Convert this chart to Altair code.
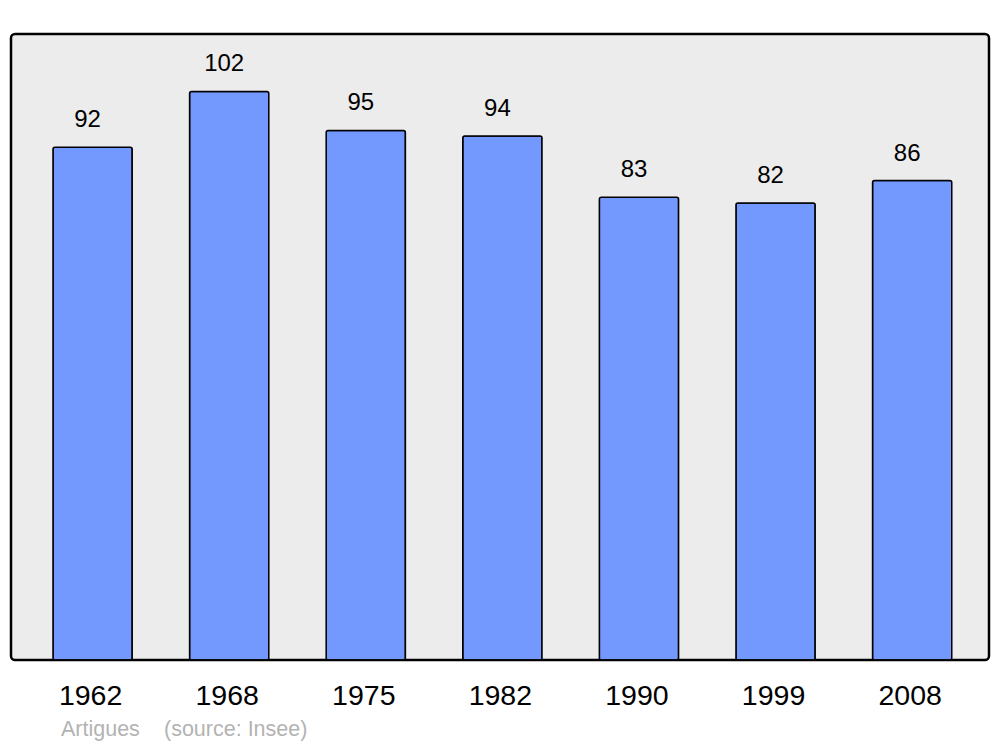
import altair as alt
import pandas as pd

years = ["1962", "1968", "1975", "1982", "1990", "1999", "2008"]
population = [92, 102, 95, 94, 83, 82, 86]

df = pd.DataFrame({"year": years, "pop": population})

x = alt.X("year:N", sort=years, title=None,
          scale=alt.Scale(paddingInner=0.42, paddingOuter=0.29, align=0.53),
          axis=alt.Axis(labelAngle=0, labelFontSize=28.5, labelColor="black",
                        labelFont="Liberation Sans", ticks=False, domain=False,
                        labelPadding=21, labelOffset=-2, grid=False))
y = alt.Y("pop:Q", scale=alt.Scale(domain=[0, 112.3], nice=False, zero=True),
          axis=None)

bars = alt.Chart(df).mark_bar(
    fill="#7399ff", stroke="black", strokeWidth=1.5, cornerRadius=2
).encode(x=x, y=y)

labels = alt.Chart(df).mark_text(
    fontSize=24, font="Liberation Sans", color="black", baseline="middle",
    dy=-27, dx=-5
).encode(x=x, y=y, text="pop:Q")

foot1 = alt.Chart(pd.DataFrame({"t": ["Artigues"]})).mark_text(
    fontSize=21.5, font="Liberation Sans", color="#b3b3b3", align="left",
    baseline="middle"
).encode(x=alt.value(50), y=alt.value(696), text="t:N")

foot2 = alt.Chart(pd.DataFrame({"t": ["(source: Insee)"]})).mark_text(
    fontSize=21.5, font="Liberation Sans", color="#b3b3b3", align="left",
    baseline="middle"
).encode(x=alt.value(153), y=alt.value(696), text="t:N")

chart = alt.layer(bars, labels, foot1, foot2).properties(
    width=978, height=626,
    autosize=alt.AutoSizeParams(type="none"),
    padding={"left": 3, "top": 26, "right": 3, "bottom": 90},
).configure_view(
    fill="#ececec", stroke="black", strokeWidth=2.5, cornerRadius=4
)

chart.save("out.html", embed_options={"renderer": "svg", "actions": False})
